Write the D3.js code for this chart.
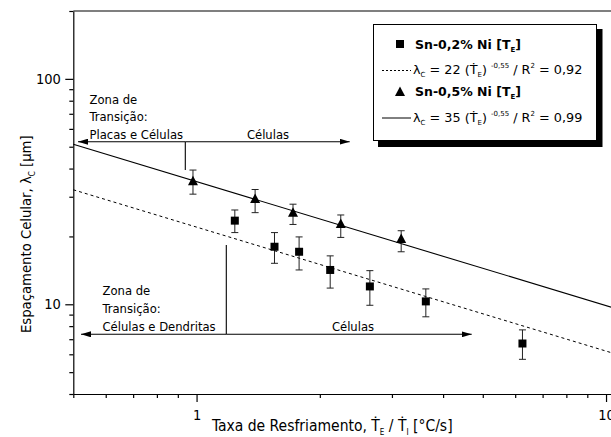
<!DOCTYPE html>
<html>
<head>
<meta charset="utf-8">
<script src="https://cdn.jsdelivr.net/npm/d3@7"></script>
<style>
  html, body { margin: 0; padding: 0; background: #fff; }
  svg { display: block; }
  text { font-family: "DejaVu Sans Condensed", "DejaVu Sans", sans-serif; fill: #000; }
  .wide { font-family: "DejaVu Sans", sans-serif; }
</style>
</head>
<body>
<svg id="chart" width="611" height="437"></svg>
<script>
// ---- data ----
const seriesNames = ["Sn-0,2% Ni", "Sn-0,5% Ni"];
// Sn-0,2% Ni (squares)
const a_rate = [1.24, 1.55, 1.78, 2.12, 2.65, 3.63, 6.25];
const a_lambda = [23.5, 18.0, 17.1, 14.2, 12.0, 10.3, 6.7];
const a_low = [20.8, 15.2, 14.2, 11.8, 9.9, 8.8, 5.7];
const a_high = [26.2, 20.8, 19.9, 16.4, 14.1, 11.7, 7.7];
// Sn-0,5% Ni (triangles)
const b_rate = [0.98, 1.39, 1.72, 2.25, 3.16];
const b_lambda = [35.1, 29.3, 25.5, 22.7, 19.5];
const b_low = [30.8, 25.5, 22.6, 19.8, 17.1];
const b_high = [39.4, 32.3, 27.8, 24.9, 21.2];
// fits: lambda = k * rate^n
const fitA = [22, -0.55];
const fitB = [35, -0.55];
const r2Labels = ["0,92", "0,99"];
const xMajorTicks = [1, 10];
const xMinorTicks = [0.5, 0.6, 0.7, 0.8, 0.9, 2, 3, 4, 5, 6, 7, 8, 9, 20];
const yMajorTicks = [10, 100];
const yMinorTicks = [4, 5, 6, 7, 8, 9, 20, 30, 40, 50, 60, 70, 80, 90, 200];

// ---- scales ----
const svg = d3.select("#chart");
const x = d3.scaleLog().domain([0.5, 20]).range([73.3, 729.3]);
const y = d3.scaleLog().domain([4, 200]).range([394, 11]);

// ---- axes ----
const fmt = d => String(d);
const ff = '"DejaVu Sans Condensed","DejaVu Sans",sans-serif';
svg.append("g").attr("transform", "translate(0,394)")
  .call(d3.axisBottom(x).tickValues(xMinorTicks).tickSize(4).tickFormat(""))
  .call(g => g.select(".domain").remove());
svg.append("g").attr("transform", "translate(0,394)")
  .call(d3.axisBottom(x).tickValues(xMajorTicks).tickSize(8).tickSizeOuter(0).tickFormat(fmt))
  .call(g => g.selectAll("text").attr("font-size", 14.5).attr("dy", "1.0em").style("font-family", ff));
svg.append("g").attr("transform", "translate(73.3,0)")
  .call(d3.axisLeft(y).tickValues(yMinorTicks).tickSize(4).tickFormat(""))
  .call(g => g.select(".domain").remove());
svg.append("g").attr("transform", "translate(73.3,0)")
  .call(d3.axisLeft(y).tickValues(yMajorTicks).tickSize(8).tickSizeOuter(0).tickFormat(fmt))
  .call(g => g.selectAll("text").attr("font-size", 14.5).attr("dx", "-0.1em").style("font-family", ff));
svg.selectAll(".tick line, .domain").attr("stroke", "#000").attr("stroke-width", 1.2);
// top frame
svg.append("line").attr("x1", 73.3).attr("x2", 611).attr("y1", y(200)).attr("y2", y(200))
  .attr("stroke", "#000").attr("stroke-width", 1.2);

// ---- axis titles ----
const xt = svg.append("text").attr("x", 212).attr("y", 431).attr("font-size", 15.5);
xt.append("tspan").text("Taxa de Resfriamento, Ṫ");
xt.append("tspan").attr("font-size", 8).attr("dy", 4).text("E");
xt.append("tspan").attr("dy", -4).text(" / Ṫ");
xt.append("tspan").attr("font-size", 8).attr("dy", 4).text("I");
xt.append("tspan").attr("dy", -4).text(" [°C/s]");

const yt = svg.append("text").attr("transform", "translate(31,333) rotate(-90)").attr("font-size", 14.7);
yt.append("tspan").text("Espaçamento Celular, λ");
yt.append("tspan").attr("font-size", 8).attr("dy", 4).text("C");
yt.append("tspan").attr("dy", -4).text("  [μm]");

// ---- fit lines ----
const fitX = [0.5, 20];
const line = d3.line().x(d => x(d[0])).y(d => y(d[1]));
svg.append("path").datum(fitX.map(v => [v, fitA[0] * Math.pow(v, fitA[1])]))
  .attr("d", line).attr("fill", "none").attr("stroke", "#000").attr("stroke-width", 1).attr("stroke-dasharray", "3,3");
svg.append("path").datum(fitX.map(v => [v, fitB[0] * Math.pow(v, fitB[1])]))
  .attr("d", line).attr("fill", "none").attr("stroke", "#000").attr("stroke-width", 1.1);

// ---- annotations ----
const defs = svg.append("defs");
defs.append("marker").attr("id", "ah").attr("viewBox", "0 0 10 6").attr("refX", 10).attr("refY", 3)
  .attr("markerWidth", 10).attr("markerHeight", 6).attr("markerUnits", "userSpaceOnUse").attr("orient", "auto")
  .append("path").attr("d", "M0,0 L10,3 L0,6 Z").attr("fill", "#000");
function seg(x1, y1, x2, y2, arrow) {
  const l = svg.append("line").attr("x1", x1).attr("y1", y1).attr("x2", x2).attr("y2", y2)
    .attr("stroke", "#000").attr("stroke-width", 1.1);
  if (arrow) l.attr("marker-end", "url(#ah)");
}
// upper
seg(185.3, 141.7, 78, 141.7, true);
seg(185.3, 141.7, 349.7, 141.7, true);
seg(185.3, 141.7, 185.3, 170, false);
// lower
seg(226.3, 334.3, 81, 334.3, true);
seg(226.3, 334.3, 471.7, 334.3, true);
seg(226.3, 245, 226.3, 334.3, false);

function lines(xp, yp, arr) {
  arr.forEach((t, i) => svg.append("text").attr("x", xp).attr("y", yp + i * 17.8).attr("font-size", 12.9).text(t));
}
lines(89.5, 103.5, ["Zona de", "Transição:", "Placas e Células"]);
lines(102.5, 295, ["Zona de", "Transição:", "Células e Dendritas"]);
svg.append("text").attr("x", 268).attr("y", 139).attr("text-anchor", "middle").attr("font-size", 12.9).text("Células");
svg.append("text").attr("x", 353).attr("y", 331).attr("text-anchor", "middle").attr("font-size", 12.9).text("Células");

// ---- error bars & markers ----
function errorBars(xs, lo, hi) {
  const g = svg.append("g").attr("stroke", "#222").attr("stroke-width", 1);
  xs.forEach((v, i) => {
    const px = x(v);
    g.append("line").attr("x1", px).attr("x2", px).attr("y1", y(lo[i])).attr("y2", y(hi[i]));
    g.append("line").attr("x1", px - 3.5).attr("x2", px + 3.5).attr("y1", y(lo[i])).attr("y2", y(lo[i]));
    g.append("line").attr("x1", px - 3.5).attr("x2", px + 3.5).attr("y1", y(hi[i])).attr("y2", y(hi[i]));
  });
}
errorBars(a_rate, a_low, a_high);
errorBars(b_rate, b_low, b_high);

const sq = "M-4,-4H4V4H-4Z";
const tri = "M0,-5.5L5,4L-5,4Z";
svg.append("g").selectAll("path").data(a_rate.map((v, i) => [v, a_lambda[i]])).join("path")
  .attr("d", sq).attr("transform", d => `translate(${x(d[0])},${y(d[1])})`).attr("fill", "#000");
svg.append("g").selectAll("path").data(b_rate.map((v, i) => [v, b_lambda[i]])).join("path")
  .attr("d", tri).attr("transform", d => `translate(${x(d[0])},${y(d[1])})`).attr("fill", "#000");

// ---- legend ----
const lg = svg.append("g");
lg.append("rect").attr("x", 378).attr("y", 29).attr("width", 224.5).attr("height", 118).attr("fill", "#000");
lg.append("rect").attr("x", 373.5).attr("y", 24.5).attr("width", 223).attr("height", 116).attr("fill", "#fff").attr("stroke", "#000").attr("stroke-width", 1);
lg.append("path").attr("d", sq).attr("transform", "translate(400,44)").attr("fill", "#000");
lg.append("path").attr("d", tri).attr("transform", "translate(400,92)").attr("fill", "#000");
lg.append("line").attr("x1", 382).attr("x2", 411).attr("y1", 70.5).attr("y2", 70.5).attr("stroke", "#000").attr("stroke-dasharray", "2,2");
lg.append("line").attr("x1", 382).attr("x2", 411).attr("y1", 118).attr("y2", 118).attr("stroke", "#000");

function legTitle(yp, name) {
  const t = lg.append("text").attr("class", "wide").attr("x", 415).attr("y", yp).attr("font-size", 12.5).attr("font-weight", "bold");
  t.append("tspan").text(name + " [T");
  t.append("tspan").attr("font-size", 7).attr("dy", 3).text("E");
  t.append("tspan").attr("dy", -3).text("]");
}
function legEq(yp, fit, r2) {
  const t = lg.append("text").attr("class", "wide").attr("x", 413).attr("y", yp).attr("font-size", 12.8);
  t.append("tspan").text("λ");
  t.append("tspan").attr("font-size", 7).attr("dy", 3).text("C");
  t.append("tspan").attr("dy", -3).text(" = " + fit[0] + " (Ṫ");
  t.append("tspan").attr("font-size", 7).attr("dy", 3).text("E");
  t.append("tspan").attr("dy", -3).text(") ");
  t.append("tspan").attr("font-size", 7).attr("dy", -6).text(String(fit[1]).replace(".", ","));
  t.append("tspan").attr("dy", 6).text(" / R");
  t.append("tspan").attr("font-size", 7).attr("dy", -6).text("2");
  t.append("tspan").attr("dy", 6).text(" = " + r2);
}
legTitle(48.5, seriesNames[0]);
legEq(74, fitA, r2Labels[0]);
legTitle(96, seriesNames[1]);
legEq(121.5, fitB, r2Labels[1]);
</script>
</body>
</html>
